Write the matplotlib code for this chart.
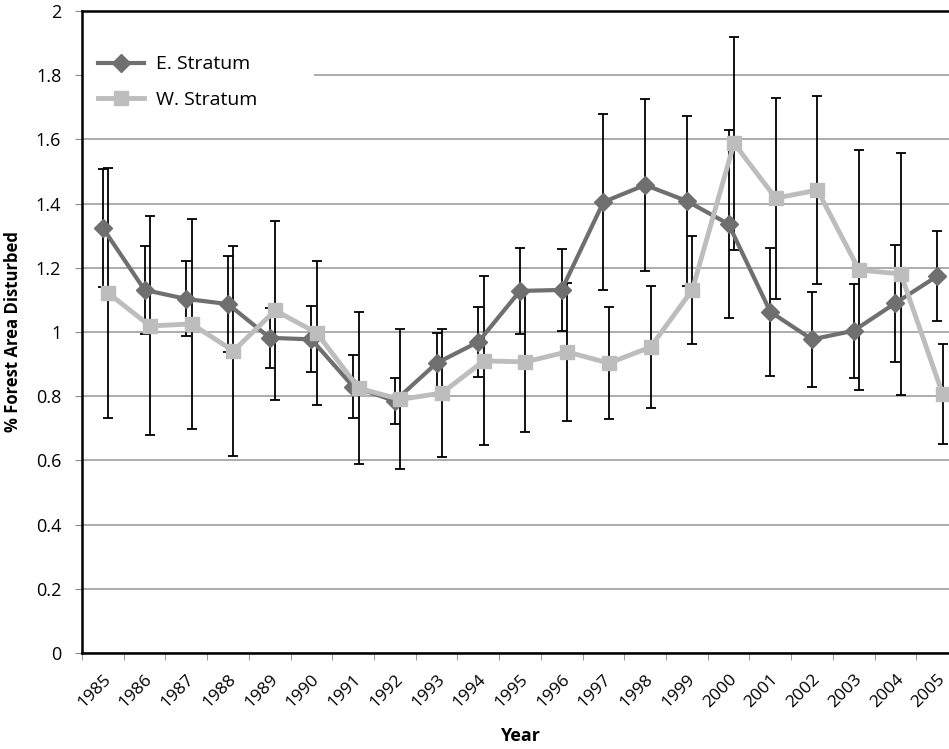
import numpy as np
import matplotlib
matplotlib.use('Agg')
import matplotlib.pyplot as plt
import matplotlib.transforms as mtransforms

years = [str(y) for y in range(1985, 2006)]

# E. Stratum: mean and error (+/-)
east = [1.324, 1.131, 1.103, 1.087, 0.982, 0.977, 0.830, 0.785, 0.903, 0.969, 1.128,
        1.131, 1.405, 1.458, 1.408, 1.336, 1.063, 0.977, 1.004, 1.090, 1.174]
east_err = [0.184, 0.137, 0.117, 0.150, 0.094, 0.103, 0.098, 0.072, 0.094, 0.109, 0.133,
            0.128, 0.274, 0.267, 0.264, 0.293, 0.200, 0.147, 0.146, 0.182, 0.140]

# W. Stratum: mean and error (+/-)
west = [1.121, 1.019, 1.025, 0.941, 1.067, 0.997, 0.825, 0.790, 0.810, 0.910, 0.907,
        0.938, 0.903, 0.953, 1.131, 1.588, 1.417, 1.442, 1.193, 1.181, 0.807]
west_err = [0.390, 0.341, 0.328, 0.328, 0.280, 0.225, 0.236, 0.218, 0.198, 0.263, 0.220,
            0.214, 0.175, 0.190, 0.168, 0.332, 0.313, 0.293, 0.375, 0.377, 0.156]

yticks = [0, 0.2, 0.4, 0.6, 0.8, 1, 1.2, 1.4, 1.6, 1.8, 2]
ytick_labels = ['0', '0.2', '0.4', '0.6', '0.8', '1', '1.2', '1.4', '1.6', '1.8', '2']

plt.rcParams['font.family'] = ['Open Sans', 'DejaVu Sans']

fig = plt.figure(figsize=(9.49, 7.49), dpi=100)
# plot area runs a little past the right edge of the image, like the original
ax = fig.add_axes([82 / 949, 1 - 653 / 749, 876 / 949, (653 - 11) / 749])

x = np.arange(len(years))
xw = x + 0.13  # W series sits slightly right of E in the original

ax.errorbar(x, east, yerr=east_err, fmt='none', ecolor='black', elinewidth=1.3,
            capsize=3.6, capthick=1.3, zorder=3)
ax.errorbar(xw, west, yerr=west_err, fmt='none', ecolor='black', elinewidth=1.3,
            capsize=3.6, capthick=1.3, zorder=3)
ax.plot(x, east, color='#6f6f6f', lw=3, marker='D', ms=9, label='E. Stratum', zorder=4)
ax.plot(xw, west, color='#bdbdbd', lw=3.5, marker='s', ms=9.5, label='W. Stratum', zorder=5)

ax.set_xlim(-0.5, len(years) - 0.5)
ax.set_ylim(0, 2)
ax.set_yticks(yticks)
ax.set_yticklabels(ytick_labels, fontsize=13)
ax.yaxis.grid(True, color='#a6a6a6', lw=1.3)
ax.set_axisbelow(True)

ax.set_xticks(x)
ax.set_xticklabels(years, rotation=45, ha='right', va='top', rotation_mode='anchor',
                   fontsize=12.5)
shift = mtransforms.ScaledTranslation(7 / 100, 0, fig.dpi_scale_trans)
for lab in ax.get_xticklabels():
    lab.set_transform(lab.get_transform() + shift)
ax.set_xticks(np.arange(len(years) + 1) - 0.5, minor=True)
ax.tick_params(axis='x', which='major', length=0, pad=13)
ax.tick_params(axis='x', which='minor', length=5, color='#888888')
ax.tick_params(axis='y', length=5, color='#888888', pad=10)

for s in ['left', 'bottom', 'top']:
    ax.spines[s].set_linewidth(1.8)
    ax.spines[s].set_color('black')
ax.spines['right'].set_visible(False)

ax.set_xlabel('Year', fontsize=13, fontweight='bold', labelpad=12)
ax.set_ylabel('% Forest Area Disturbed', fontsize=12, fontweight='bold', labelpad=10)

leg = ax.legend(loc='upper left', bbox_to_anchor=(0.0, 0.955, 0.265, 0.0), mode='expand',
                fontsize=14, frameon=True, framealpha=1, edgecolor='none', facecolor='white',
                fancybox=False, handlelength=2.4, handletextpad=0.6, borderpad=0.8,
                labelspacing=0.9, borderaxespad=0.0)
leg.set_zorder(2)  # above the grid, below the spines

fig.savefig('out.png', dpi=100)
